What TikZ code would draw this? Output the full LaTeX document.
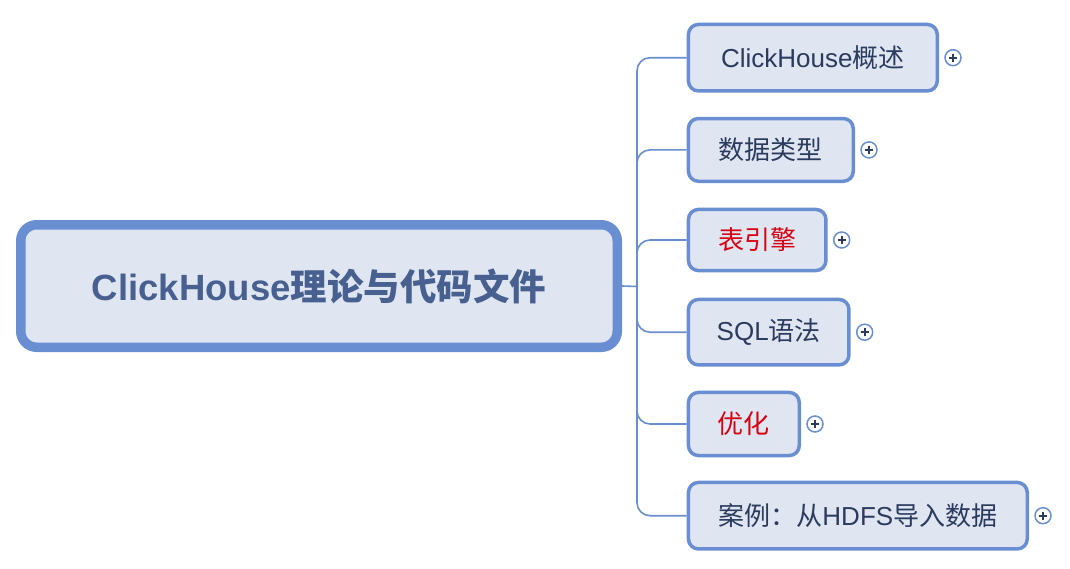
\documentclass[tikz,border=0pt]{standalone}
\usepackage{fontspec}
\setmainfont{Liberation Sans}
\newfontfamily\cjk{Noto Sans CJK SC}
\newcommand\zh[1]{{\cjk #1}}
\definecolor{edge}{HTML}{6A8ED2}
\definecolor{fillc}{HTML}{DFE5F1}
\definecolor{navy}{HTML}{2B3B5E}
\definecolor{roottext}{HTML}{48608F}
\definecolor{redt}{HTML}{D90010}
\tikzset{
 rootbox/.style={draw=edge, line width=9.5pt, fill=fillc, rounded corners=16pt, minimum width=596.5pt, minimum height=122.5pt, font=\fontsize{36.5}{42}\selectfont\bfseries, text=roottext, inner sep=0pt},
 childbox/.style={draw=edge, line width=3.5pt, fill=fillc, rounded corners=10pt, font=\fontsize{26}{30}\selectfont, text=navy, inner sep=0pt, anchor=west},
 conn/.style={draw=edge, line width=1.6pt, rounded corners=13pt},
 plusbtn/.style={circle, draw=edge, line width=1.5pt, fill=white, minimum size=16pt, inner sep=0pt,
   path picture={\draw[navy, line width=1.7pt]
     ([xshift=-3.8pt]path picture bounding box.center) -- ([xshift=3.8pt]path picture bounding box.center)
     ([yshift=-3.8pt]path picture bounding box.center) -- ([yshift=3.8pt]path picture bounding box.center);}}
}
\begin{document}
\begin{tikzpicture}[x=1pt,y=-1pt]
\useasboundingbox (0,0) rectangle (1070,568);
\node[rootbox] (root) at (319,286) {ClickHouse\zh{理论与代码文件}};
\node[childbox, minimum width=248.8pt, minimum height=66.5pt] (c1) at (686.7,57.7) {ClickHouse\zh{概述}};
\node[childbox, minimum width=164.8pt, minimum height=62.8pt] (c2) at (686.7,149.9) {\zh{数据类型}};
\node[childbox, minimum width=137.5pt, minimum height=61.1pt, text=redt] (c3) at (686.7,240) {\zh{表引擎}};
\node[childbox, minimum width=160.5pt, minimum height=65.5pt] (c4) at (686.7,332.2) {SQL\zh{语法}};
\node[childbox, minimum width=110.8pt, minimum height=63.1pt, text=redt] (c5) at (686.7,424) {\zh{优化}};
\node[childbox, minimum width=338.8pt, minimum height=66.5pt] (c6) at (686.7,515.7) {\zh{案例：从}HDFS\zh{导入数据}};
\coordinate (hub) at (637,286.5);
\draw[conn] (root.east) -- (hub);
\foreach \c in {c1,c2,c3,c4,c5,c6} {
  \draw[conn] (hub) |- (\c.west);
}
\foreach \c in {c1,c2,c3,c4,c5,c6} {
  \node[plusbtn] (p\c) at ([xshift=14pt]\c.east) {};
}
\end{tikzpicture}
\end{document}
